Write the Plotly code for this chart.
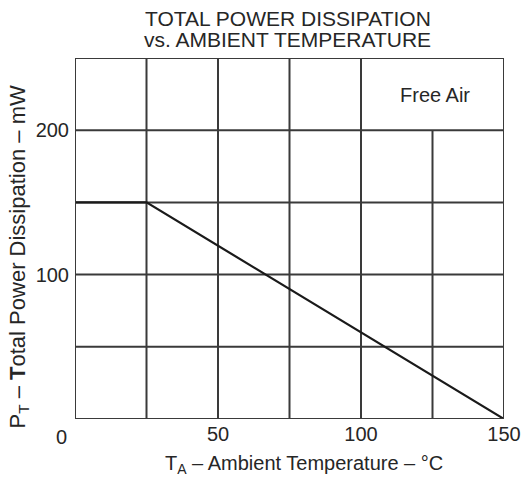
import plotly.graph_objects as go

# Data
temp_c = [0, 25, 150]
power_mw = [150, 150, 0]
x_ticks = [50, 100, 150]
y_ticks = [100, 200]
v_grid = [25, 50, 75, 100]
v_grid_short = [125]   # stops at 200 mW (Free Air box)
h_grid = [50, 100, 150, 200]

X_MAX, Y_MAX = 150, 250
FONT = "Liberation Sans, Arial, sans-serif"
GRID = "#3a3a3a"
TXT = "#262626"

fig = go.Figure()
fig.add_trace(go.Scatter(x=temp_c, y=power_mw, mode="lines",
                         line=dict(color="#1a1a1a", width=2.2), hoverinfo="skip"))

shapes = []
for v in v_grid:
    shapes.append(dict(type="line", x0=v, x1=v, y0=0, y1=Y_MAX, xref="x", yref="y",
                       line=dict(color=GRID, width=2), layer="below"))
for v in v_grid_short:
    shapes.append(dict(type="line", x0=v, x1=v, y0=0, y1=200, xref="x", yref="y",
                       line=dict(color=GRID, width=2), layer="below"))
for h in h_grid:
    shapes.append(dict(type="line", x0=0, x1=X_MAX, y0=h, y1=h, xref="x", yref="y",
                       line=dict(color=GRID, width=2), layer="below"))
shapes.append(dict(type="rect", x0=0, x1=X_MAX, y0=0, y1=Y_MAX, xref="x", yref="y",
                   line=dict(color=GRID, width=2)))

annotations = [
    dict(text="TOTAL POWER DISSIPATION", xref="paper", yref="paper",
         x=0.5, xshift=-2, y=1.0, yshift=40, yanchor="middle", showarrow=False,
         font=dict(family=FONT, size=21, color=TXT)),
    dict(text="vs. AMBIENT TEMPERATURE", xref="paper", yref="paper",
         x=0.5, xshift=-2, y=1.0, yshift=19, yanchor="middle", showarrow=False,
         font=dict(family=FONT, size=21, color=TXT)),
    dict(text="Free Air", x=125, y=228, xref="x", yref="y", xshift=2, yshift=-5,
         showarrow=False, font=dict(family=FONT, size=20, color=TXT)),
    dict(text="0", x=0, y=0, xref="x", yref="y", xshift=-14, yshift=-18,
         yanchor="middle", showarrow=False,
         font=dict(family=FONT, size=20, color=TXT)),
    dict(text="T<sub>A</sub> – Ambient Temperature – °C", xref="paper", yref="paper",
         x=0.534, y=0, yshift=-45, yanchor="middle", showarrow=False,
         font=dict(family=FONT, size=20, color=TXT)),
    dict(text="P<sub>T</sub> – <b>T</b>otal Power Dissipation – mW", xref="paper", yref="paper",
         x=0, xshift=-57, y=0.5, yshift=-19, textangle=-90, xanchor="center", yanchor="middle",
         showarrow=False, font=dict(family=FONT, size=22, color=TXT)),
]

fig.update_layout(
    width=526, height=479,
    margin=dict(l=75, r=22, t=58, b=60, autoexpand=False),
    paper_bgcolor="white", plot_bgcolor="white",
    showlegend=False,
    shapes=shapes, annotations=annotations,
    xaxis=dict(range=[0, X_MAX], tickvals=x_ticks, showgrid=False, zeroline=False,
               showline=False, ticks="", automargin=False, ticklabelstandoff=1,
               tickfont=dict(family=FONT, size=20, color=TXT)),
    yaxis=dict(range=[0, Y_MAX], tickvals=y_ticks, showgrid=False, zeroline=False,
               showline=False, ticks="", ticklabelstandoff=5, automargin=False,
               tickfont=dict(family=FONT, size=20, color=TXT)),
)

fig.write_html("out.html", config={"displayModeBar": False},
               post_script="document.body.style.margin='0';document.body.style.overflow='hidden';")
